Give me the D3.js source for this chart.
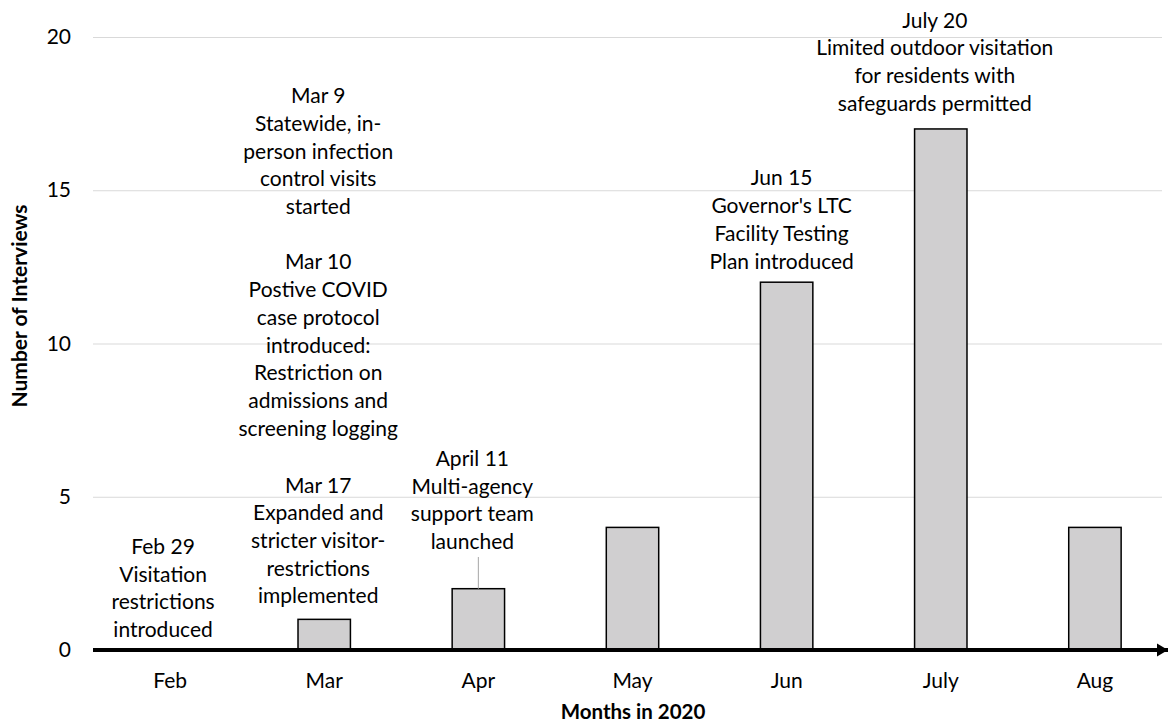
<!DOCTYPE html>
<html>
<head>
<meta charset="utf-8">
<script src="https://cdn.jsdelivr.net/npm/d3@7"></script>
<style>
  body { margin: 0; background: #fff; }
  svg text { font-family: Lato, "Open Sans", sans-serif; fill: #000; }
</style>
</head>
<body>
<div id="canvas"></div>
<script>
// data
var months = ['Feb','Mar','Apr','May','Jun','July','Aug'];
var interviews = [0,1,2,4,12,17,4];
var yTicks = [0,5,10,15,20];

// event notes (text only)
var noteFeb29 = ['Feb 29','Visitation','restrictions','introduced'];
var noteMar9 = ['Mar 9','Statewide, in-','person infection','control visits','started'];
var noteMar10 = ['Mar 10','Postive COVID','case protocol','introduced:','Restriction on','admissions and','screening logging'];
var noteMar17 = ['Mar 17','Expanded and','stricter visitor-','restrictions','implemented'];
var noteApr11 = ['April 11','Multi-agency','support team','launched'];
var noteJun15 = ['Jun 15',"Governor's LTC",'Facility Testing','Plan introduced'];
var noteJul20 = ['July 20','Limited outdoor visitation','for residents with','safeguards permitted'];

var W = 1169, H = 725;
var m = {t:37, r:9, b:75, l:93};
var fs = '21px';

var svg = d3.select('#canvas').append('svg')
    .attr('width', W).attr('height', H);

var x = d3.scaleBand()
    .domain(months)
    .range([m.l, 1172])
    .paddingInner(0.66)
    .paddingOuter(0.33);

var y = d3.scaleLinear()
    .domain([0,20])
    .range([H - m.b, m.t]);

// gridlines
var grid = d3.axisLeft(y).tickValues(yTicks).tickSize(-(1162 - m.l)).tickFormat('');
svg.append('g')
    .attr('transform','translate(' + m.l + ',0)')
    .call(grid)
    .call(function(g){
        g.select('.domain').remove();
        g.selectAll('line').attr('stroke','#d9d9d9').attr('stroke-width',1);
    });

// y tick labels
var axisY = d3.axisLeft(y).tickValues(yTicks).tickSize(0).tickPadding(0);
svg.append('g')
    .attr('transform','translate(71,0)')
    .call(axisY)
    .call(function(g){
        g.select('.domain').remove();
        g.selectAll('text').style('font-size',fs).attr('font-family',null);
    });

// bars
svg.selectAll('.bar')
    .data(months)
    .enter()
    .append('rect')
    .attr('class','bar')
    .attr('x', function(d){ return x(d); })
    .attr('width', x.bandwidth())
    .attr('y', function(d,i){ return y(interviews[i]); })
    .attr('height', function(d,i){ return y(0) - y(interviews[i]); })
    .attr('fill','#d0cfd0')
    .attr('stroke','#000')
    .attr('stroke-width',1.5)
    .style('display', function(d,i){ return interviews[i] > 0 ? null : 'none'; });

// x axis with arrow
svg.append('defs').append('marker')
    .attr('id','arrow')
    .attr('viewBox','0 0 10 12')
    .attr('refX',10).attr('refY',6)
    .attr('markerWidth',2.8).attr('markerHeight',3.5)
    .attr('markerUnits','strokeWidth')
    .attr('orient','auto')
    .append('path')
    .attr('d','M0,0L10,6L0,12Z')
    .attr('fill','#000');

svg.append('line')
    .attr('x1', m.l).attr('x2', 1168)
    .attr('y1', y(0)).attr('y2', y(0))
    .attr('stroke','#000')
    .attr('stroke-width',4)
    .attr('marker-end','url(#arrow)');

var axisX = d3.axisBottom(x).tickSize(0).tickPadding(0);
svg.append('g')
    .attr('transform','translate(0,' + (y(0) + 38) + ')')
    .call(axisX)
    .call(function(g){
        g.select('.domain').remove();
        g.selectAll('text').style('font-size',fs).attr('font-family',null).attr('dy',0);
    });

// axis titles
svg.append('text')
    .attr('x', 633).attr('y', 719)
    .attr('text-anchor','middle')
    .style('font-size','20.5px').style('font-weight','bold')
    .text('Months in 2020');

svg.append('text')
    .attr('transform','translate(27,' + 306 + ') rotate(-90)')
    .attr('text-anchor','middle')
    .style('font-size','21px').style('font-weight','bold')
    .text('Number of Interviews');

// notes: month, horizontal nudge, first line centre (in axis units)
var lineH = 27.7;
var notes = [
    {lines: noteFeb29, month:'Feb', dx:-7, top:3.38},
    {lines: noteMar9,  month:'Mar', dx:-6, top:18.08},
    {lines: noteMar10, month:'Mar', dx:-6, top:12.66},
    {lines: noteMar17, month:'Mar', dx:-6, top:5.38},
    {lines: noteApr11, month:'Apr', dx:-6, top:6.25},
    {lines: noteJun15, month:'Jun', dx:-5, top:15.4},
    {lines: noteJul20, month:'July', dx:-6, top:20.55}
];

var noteG = svg.selectAll('.note')
    .data(notes)
    .enter()
    .append('text')
    .attr('class','note')
    .attr('text-anchor','middle')
    .style('font-size',fs);

noteG.selectAll('tspan')
    .data(function(d){
        return d.lines.map(function(t,i){ return {t:t, i:i, n:d}; });
    })
    .enter()
    .append('tspan')
    .attr('x', function(d){ return x(d.n.month) + x.bandwidth()/2 + d.n.dx; })
    .attr('y', function(d){ return y(d.n.top) + d.i * lineH + 7.5; })
    .text(function(d){ return d.t; });

// leader from April note to bar
svg.append('line')
    .attr('x1', x('Apr') + x.bandwidth()/2).attr('x2', x('Apr') + x.bandwidth()/2)
    .attr('y1', 557).attr('y2', y(interviews[2]))
    .attr('stroke','#a6a6a6').attr('stroke-width',1);
</script>
</body>
</html>
